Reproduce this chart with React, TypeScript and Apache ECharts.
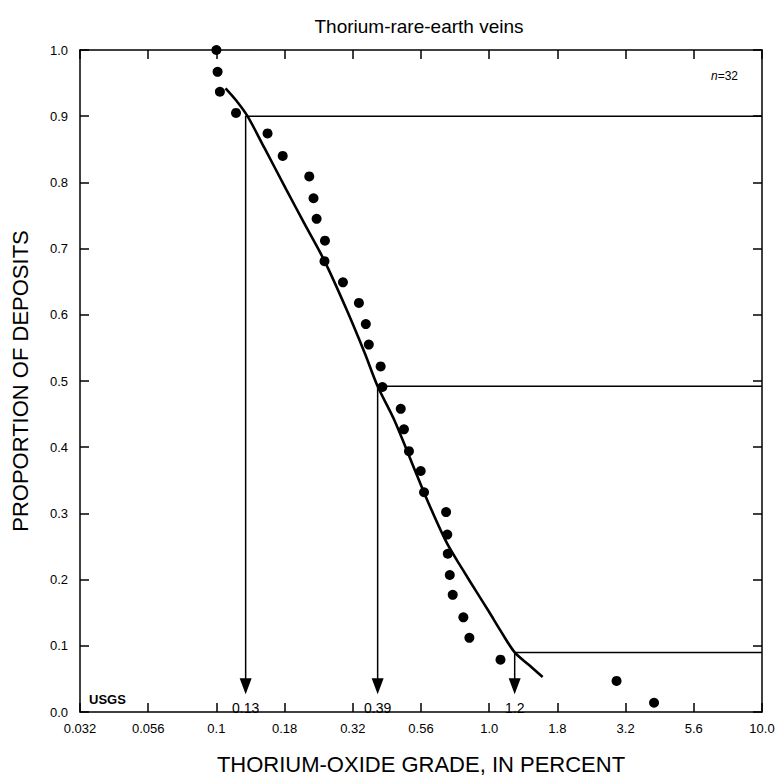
import React, { useEffect, useRef } from 'react';
import * as echarts from 'echarts';

// x-axis tick labels (quarter-decade log ticks)
const tickLabels = ['0.032', '0.056', '0.1', '0.18', '0.32', '0.56', '1.0', '1.8', '3.2', '5.6', '10.0'];

// observed deposits: grade (percent ThO2) and proportion of deposits
const gradeValues = [
  0.1, 0.101, 0.103, 0.118, 0.154, 0.175, 0.219, 0.227, 0.233, 0.25, 0.249,
  0.291, 0.333, 0.353, 0.362, 0.4, 0.406, 0.474, 0.487, 0.508, 0.561, 0.577,
  0.695, 0.702, 0.705, 0.717, 0.735, 0.804, 0.846, 1.1, 2.93, 4.02,
];
const proportions = [
  1.0, 0.967, 0.937, 0.905, 0.874, 0.84, 0.809, 0.776, 0.745, 0.712, 0.681,
  0.649, 0.618, 0.586, 0.555, 0.522, 0.491, 0.458, 0.427, 0.394, 0.364, 0.332,
  0.302, 0.268, 0.239, 0.207, 0.177, 0.143, 0.112, 0.079, 0.047, 0.014,
];

// fitted curve
const curveGrades = [0.108, 0.118, 0.13, 0.15, 0.18, 0.21, 0.25, 0.3, 0.35, 0.39, 0.45, 0.52, 0.6, 0.7, 0.8, 0.9, 1.0, 1.1, 1.24, 1.4, 1.57];
const curveProportions = [0.942, 0.924, 0.9, 0.852, 0.79, 0.738, 0.68, 0.608, 0.542, 0.492, 0.44, 0.377, 0.315, 0.255, 0.215, 0.181, 0.151, 0.123, 0.09, 0.071, 0.053];

// 90th, 50th, 10th percentile markers
const markerGrades = [0.128, 0.39, 1.24];
const markerLevels = [0.9, 0.492, 0.09];
const markerLabels = ['0.13', '0.39', '1.2'];

const FONT = '"Liberation Sans", Arial, Helvetica, sans-serif';
const X_MIN = -1.5;
const X_MAX = 1;
const X_STEP = 0.25;
const ARROW_Y = 0.039;
const lg = (v: number) => Math.log10(v);

export default function App() {
  const ref = useRef<HTMLDivElement>(null);
  useEffect(() => {
    document.body.style.margin = '0';
    if (!ref.current) return;
    const chart = echarts.init(ref.current, undefined, { renderer: 'svg' });

    const axisLine = { show: true, onZero: false, lineStyle: { color: '#000', width: 1.5 } };
    const axisTick = { show: true, inside: true, length: 9, lineStyle: { color: '#000', width: 1.5 } };

    const markerSeries = markerGrades.map((g, i) => ({
      type: 'line',
      data: [
        [lg(10), markerLevels[i]],
        [lg(g), markerLevels[i]],
        [lg(g), ARROW_Y],
      ],
      showSymbol: false,
      symbol: 'none',
      lineStyle: { color: '#000', width: 1.5 },
      silent: true,
      z: 2,
    }));

    const option: any = {
      animation: false,
      backgroundColor: '#fff',
      title: {
        text: 'Thorium-rare-earth veins',
        left: 414,
        textAlign: 'center',
        top: 12,
        textStyle: { fontSize: 19, fontWeight: 'normal', color: '#000', fontFamily: FONT },
      },
      grid: { left: 80, right: 19, top: 50, bottom: 64 },
      xAxis: [
        {
          type: 'value',
          position: 'bottom',
          min: X_MIN,
          max: X_MAX,
          interval: X_STEP,
          axisLine,
          axisTick,
          splitLine: { show: false },
          axisLabel: {
            color: '#000',
            fontSize: 13,
            fontFamily: FONT,
            margin: 10,
            formatter: (v: number) => tickLabels[Math.round((v - X_MIN) / X_STEP)] ?? '',
          },
          name: 'THORIUM-OXIDE GRADE, IN PERCENT',
          nameLocation: 'middle',
          nameGap: 41,
          nameTextStyle: { fontSize: 22, color: '#000', fontFamily: FONT },
        },
        {
          type: 'value',
          position: 'top',
          min: X_MIN,
          max: X_MAX,
          interval: X_STEP,
          axisLine,
          axisTick,
          splitLine: { show: false },
          axisLabel: { show: false },
        },
      ],
      yAxis: [
        {
          type: 'value',
          position: 'left',
          min: 0,
          max: 1,
          interval: 0.1,
          axisLine,
          axisTick,
          splitLine: { show: false },
          axisLabel: {
            color: '#000',
            fontSize: 13,
            fontFamily: FONT,
            margin: 12,
            formatter: (v: number) => v.toFixed(1),
          },
          name: 'PROPORTION OF DEPOSITS',
          nameLocation: 'middle',
          nameGap: 49,
          nameTextStyle: { fontSize: 22, color: '#000', fontFamily: FONT },
        },
        {
          type: 'value',
          position: 'right',
          min: 0,
          max: 1,
          interval: 0.1,
          axisLine,
          axisTick,
          splitLine: { show: false },
          axisLabel: { show: false },
        },
      ],
      graphic: [
        {
          type: 'text',
          right: 43,
          top: 70,
          style: {
            text: '{i|n}=32',
            rich: { i: { fontStyle: 'italic', fontSize: 12, fontFamily: FONT, fill: '#000' } },
            fontSize: 12,
            fontFamily: FONT,
            fill: '#000',
          },
        },
        {
          type: 'text',
          left: 89,
          top: 693,
          style: { text: 'USGS', fontSize: 13, fontWeight: 'bold', fontFamily: FONT, fill: '#000' },
        },
      ],
      series: [
        ...markerSeries,
        {
          type: 'line',
          data: curveGrades.map((g, i) => [lg(g), curveProportions[i]]),
          smooth: 0.3,
          showSymbol: false,
          symbol: 'none',
          lineStyle: { color: '#000', width: 2.6 },
          z: 3,
        },
        {
          type: 'scatter',
          data: gradeValues.map((g, i) => [lg(g), proportions[i]]),
          symbol: 'circle',
          symbolSize: 10,
          itemStyle: { color: '#000', opacity: 1 },
          clip: false,
          z: 4,
        },
        {
          type: 'scatter',
          data: markerGrades.map((g) => [lg(g), ARROW_Y]),
          symbol: 'triangle',
          symbolRotate: 180,
          symbolSize: [12, 16],
          itemStyle: { color: '#000', opacity: 1 },
          z: 4,
        },
        {
          type: 'scatter',
          data: markerGrades.map((g, i) => ({ value: [lg(g), 0], name: markerLabels[i] })),
          symbolSize: 1,
          itemStyle: { color: 'rgba(0,0,0,0)', opacity: 1 },
          label: {
            show: true,
            position: 'top',
            distance: -3,
            formatter: (p: any) => p.name,
            color: '#000',
            fontSize: 14,
            fontFamily: FONT,
          },
          z: 5,
        },
      ],
    };
    chart.setOption(option);
    return () => chart.dispose();
  }, []);
  return <div ref={ref} style={{ width: 781, height: 780 }} />;
}
